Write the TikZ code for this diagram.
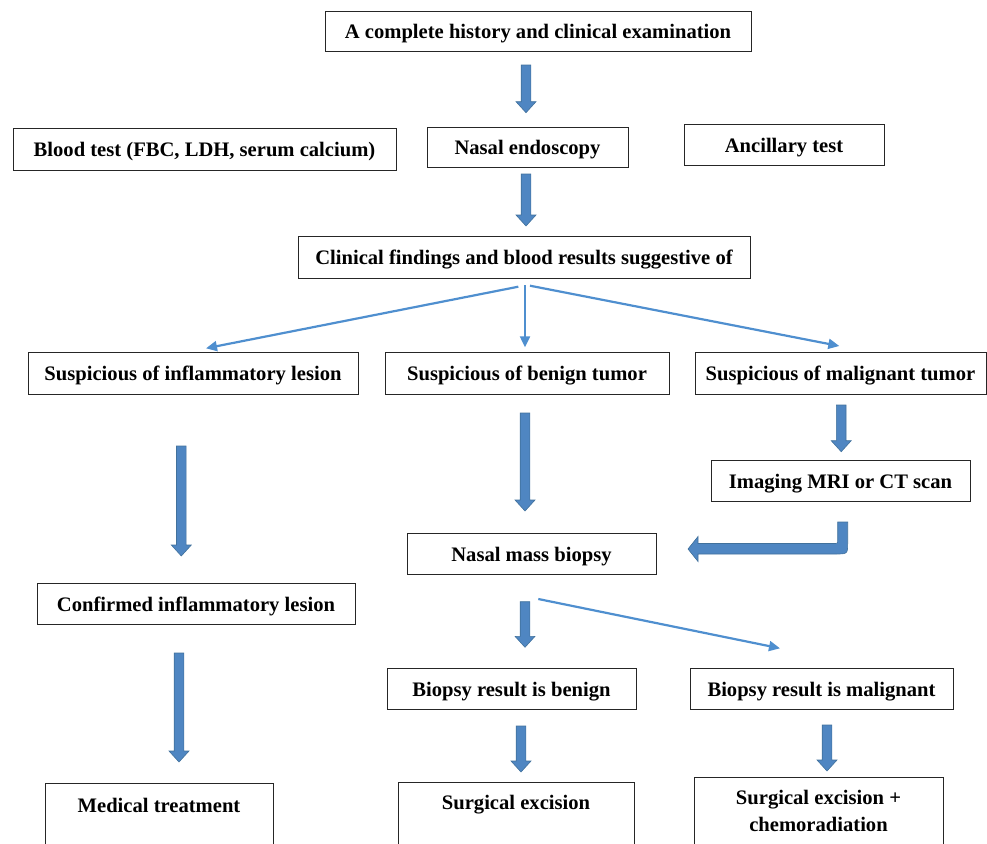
\documentclass[tikz,border=0pt]{standalone}
\usepackage{fontspec}
\setmainfont{Liberation Serif}
\usepackage{tikz}
\usetikzlibrary{arrows.meta,calc,shadows}
\definecolor{arrowfill}{HTML}{4F86C2}
\definecolor{arrowedge}{HTML}{41719C}
\definecolor{thinblue}{HTML}{4F8FCF}

\newcommand{\fatarrow}[2]{%
  \filldraw [fatarrow] ($(#1)+(-4.8,0)$) -- ($(#1)+(4.8,0)$) -- ($(#2)+(4.8,-11)$) -- ($(#2)+(10,-11)$) -- (#2) -- ($(#2)+(-10,-11)$) -- ($(#2)+(-4.8,-11)$) -- cycle;}

\begin{document}
\begin{tikzpicture}[x=1pt,y=-1pt]
                \tikzstyle{every node}+=[font=\fontsize{20.6}{27}\selectfont\bfseries]
                \tikzstyle{box}=[draw=black!85, line width=0.9pt, fill=white, inner sep=0pt, text height=15pt, text depth=0pt, drop shadow={shadow xshift=1pt, shadow yshift=-1pt, fill=black!55, opacity=1}]
                \tikzstyle{openbox}=[box, anchor=north, text height=14pt, text depth=70pt, align=center]
                \tikzstyle{fatarrow}=[fill=arrowfill, draw=arrowedge, line width=0.6pt, line join=miter]
                \tikzstyle{thinarrow}=[draw=thinblue, line width=2.2pt, -{Triangle[length=11pt,width=10pt]}]
                \useasboundingbox (0,0) rectangle (987,843);
                \clip (0,0) rectangle (987,843);
                \node [box, minimum width=426pt, minimum height=40pt] (hist) at (538,31) {A complete history and clinical examination};
                \node [box, minimum width=383pt, minimum height=42pt] (blood) at (204.5,149) {Blood test (FBC, LDH, serum calcium)};
                \node [box, minimum width=201pt, minimum height=40pt] (endo) at (527.5,147) {Nasal endoscopy};
                \node [box, minimum width=200pt, minimum height=41pt] (ancil) at (784,144.5) {Ancillary test};
                \node [box, minimum width=452pt, minimum height=42pt] (clin) at (524,257) {Clinical findings and blood results suggestive of};
                \node [box, minimum width=330pt, minimum height=42pt] (susinf) at (193,373) {Suspicious of inflammatory lesion};
                \node [box, minimum width=284pt, minimum height=42pt] (susben) at (527,373) {Suspicious of benign tumor};
                \node [box, minimum width=291pt, minimum height=42pt] (susmal) at (840.5,373) {Suspicious of malignant tumor};
                \node [box, minimum width=259pt, minimum height=41pt] (imag) at (840.5,480.5) {Imaging MRI or CT scan};
                \node [box, minimum width=249pt, minimum height=41pt] (biopsy) at (531.5,553.5) {Nasal mass biopsy};
                \node [box, minimum width=318pt, minimum height=41pt] (confinf) at (196,603.5) {Confirmed inflammatory lesion};
                \node [box, minimum width=249pt, minimum height=41pt] (biob) at (511.5,688.5) {Biopsy result is benign};
                \node [box, minimum width=263pt, minimum height=41pt] (biom) at (821.5,688.5) {Biopsy result is malignant};
                \node [openbox, minimum width=228pt, inner ysep=15pt] (medtx) at (159,783) {Medical treatment};
                \node [openbox, minimum width=236pt, inner ysep=13pt] (surg) at (516,782) {Surgical excision};
                \node [openbox, minimum width=249pt, inner ysep=13pt, text height=41pt] (chemo) at (818.5,777) {Surgical excision +\\chemoradiation};
                \coordinate (a1) at (526,65);
                \coordinate (a1t) at (526,112.7);
                \coordinate (a2) at (526,174);
                \coordinate (a2t) at (526,226);
                \coordinate (a3) at (525,413);
                \coordinate (a3t) at (525,511);
                \coordinate (a4) at (181.3,446);
                \coordinate (a4t) at (181.3,556);
                \coordinate (a5) at (179,653);
                \coordinate (a5t) at (179,762);
                \coordinate (a6) at (841.2,405);
                \coordinate (a6t) at (841.2,451.7);
                \coordinate (a7) at (525,601.7);
                \coordinate (a7t) at (525,647.3);
                \coordinate (a8) at (521,726);
                \coordinate (a8t) at (521,772);
                \coordinate (a9) at (827,725);
                \coordinate (a9t) at (827,771);
                \fatarrow{a1}{a1t}
                \fatarrow{a2}{a2t}
                \fatarrow{a3}{a3t}
                \fatarrow{a4}{a4t}
                \fatarrow{a5}{a5t}
                \fatarrow{a6}{a6t}
                \fatarrow{a7}{a7t}
                \fatarrow{a8}{a8t}
                \fatarrow{a9}{a9t}
                \coordinate (bend) at (842.7,522);
                \coordinate (bendt) at (688,549);
                \filldraw [fatarrow] ($(bend)+(-5,0)$) -- ($(bend)+(5,0)$) -- ($(bend)+(5,20)$) .. controls ($(bend)+(5,32)$) .. ($(bend)+(-7,32)$) -- ($(bendt)+(10,5)$) -- ($(bendt)+(10,12.5)$) -- (bendt) -- ($(bendt)+(10,-12.5)$) -- ($(bendt)+(10,-5.5)$) -- ($(bend)+(-9,21.5)$) .. controls ($(bend)+(-5,21.5)$) .. ($(bend)+(-5,17.5)$) -- cycle;
                \coordinate (fanL) at (518.3,286.7);
                \coordinate (fanM) at (525,285);
                \coordinate (fanR) at (530,285.7);
                \coordinate (tipL) at (206,348.3);
                \coordinate (tipM) at (525,347.3);
                \coordinate (tipR) at (839.3,346);
                \coordinate (bioS) at (538.3,599);
                \coordinate (bioT) at (780,648.3);
                \draw [thinarrow] (fanL) -- (tipL);
                \draw [thinarrow] (fanM) -- (tipM);
                \draw [thinarrow] (fanR) -- (tipR);
                \draw [thinarrow] (bioS) -- (bioT);
\end{tikzpicture}
\end{document}
